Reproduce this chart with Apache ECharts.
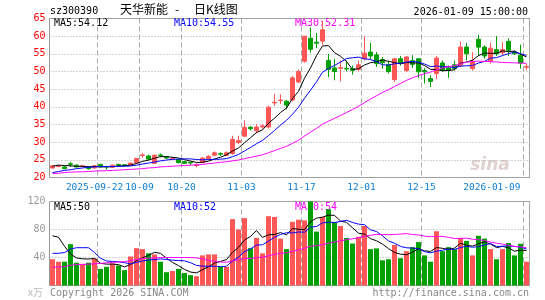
<!DOCTYPE html>
<html>
<head>
<meta charset="utf-8">
<script src="https://cdn.jsdelivr.net/npm/echarts@6/dist/echarts.min.js"></script>
<style>
html, body { margin: 0; padding: 0; background: #fff; }
#main { width: 545px; height: 300px; }
</style>
</head>
<body>
<div id="main"></div>
<script>
// trading days shown on the chart
var dates = [
  '2025-09-10','2025-09-11','2025-09-12','2025-09-15','2025-09-16','2025-09-17','2025-09-18','2025-09-19','2025-09-22','2025-09-23',
  '2025-09-24','2025-09-25','2025-09-26','2025-09-29','2025-09-30','2025-10-09','2025-10-10','2025-10-13','2025-10-14','2025-10-15',
  '2025-10-16','2025-10-17','2025-10-20','2025-10-21','2025-10-22','2025-10-23','2025-10-24','2025-10-27','2025-10-28','2025-10-29',
  '2025-10-30','2025-10-31','2025-11-03','2025-11-04','2025-11-05','2025-11-06','2025-11-07','2025-11-10','2025-11-11','2025-11-12',
  '2025-11-13','2025-11-14','2025-11-17','2025-11-18','2025-11-19','2025-11-20','2025-11-21','2025-11-24','2025-11-25','2025-11-26',
  '2025-11-27','2025-11-28','2025-12-01','2025-12-02','2025-12-03','2025-12-04','2025-12-05','2025-12-08','2025-12-09','2025-12-10',
  '2025-12-11','2025-12-12','2025-12-15','2025-12-16','2025-12-17','2025-12-18','2025-12-19','2025-12-22','2025-12-23','2025-12-24',
  '2025-12-25','2025-12-26','2025-12-29','2025-12-30','2025-12-31','2026-01-05','2026-01-06','2026-01-07','2026-01-08','2026-01-09'
];

var opens = [
  22.7,23.1,23.0,23.9,23.5,23.1,23.0,22.7,23.7,23.1,
  22.9,23.7,23.6,23.5,24.2,26.2,26.1,24.0,26.4,25.8,
  25.2,25.1,24.5,24.3,23.4,24.2,25.3,26.3,26.8,26.3,
  26.8,29.9,31.7,34.2,33.2,34.3,34.3,41.1,41.8,41.6,
  41.9,47.0,52.9,59.4,58.3,58.6,53.1,51.0,50.9,50.9,
  50.8,50.6,53.6,55.5,54.7,53.4,51.9,47.7,53.6,50.3,
  53.1,53.6,50.3,48.0,49.4,52.4,51.0,51.9,51.7,56.9,
  50.8,59.1,56.9,52.9,56.2,55.3,58.5,55.5,54.6,51.2
];
var closes = [
  23.3,23.3,22.5,23.7,23.0,23.3,22.5,23.3,23.0,23.0,
  23.5,23.5,23.4,24.1,25.4,26.4,25.2,26.3,26.2,25.5,
  25.4,24.2,24.0,24.1,23.6,25.5,26.0,27.0,26.6,27.0,
  30.8,30.5,34.2,33.8,34.3,34.6,39.9,41.3,41.9,40.5,
  48.2,50.0,60.0,56.3,58.0,61.8,50.6,50.0,51.1,50.7,
  50.3,51.9,55.2,54.4,52.2,52.5,50.0,53.6,52.5,54.1,
  52.0,49.9,49.9,47.2,53.8,50.3,50.3,50.8,56.9,55.0,
  52.9,56.9,54.4,56.6,55.0,56.2,56.0,55.0,52.4,51.4
];
var highs = [
  23.5,23.6,23.3,24.4,23.7,23.5,23.1,23.4,23.9,23.3,
  23.6,23.9,23.8,24.2,25.5,26.9,26.4,26.5,26.8,26.0,
  25.8,25.3,24.7,24.5,24.0,25.7,26.3,27.4,27.1,27.4,
  31.8,31.8,36.2,34.6,35.1,35.1,40.3,43.7,43.5,41.9,
  48.7,50.6,60.0,62.5,60.9,64.3,55.0,53.6,53.1,53.1,
  51.7,53.1,60.0,58.1,55.5,54.1,53.1,53.8,54.4,54.4,
  54.6,53.8,51.0,48.9,54.4,53.1,51.7,53.1,58.5,58.1,
  55.5,60.4,57.4,58.1,60.0,58.3,59.4,56.0,57.6,52.2
];
var lows = [
  22.5,22.9,22.3,23.0,22.8,22.9,22.2,22.5,22.9,22.2,
  22.7,23.2,23.2,23.3,24.0,25.6,25.0,23.8,25.7,25.2,
  25.0,24.0,23.8,23.5,22.9,24.1,25.1,26.0,26.1,26.1,
  26.4,29.4,31.5,33.3,32.5,33.9,33.9,40.3,40.8,39.3,
  41.6,46.8,52.5,55.3,56.6,57.5,48.4,47.5,47.2,50.0,
  49.1,50.1,53.1,53.4,51.3,50.8,49.4,47.0,51.7,49.8,
  51.0,48.2,46.6,45.6,47.8,49.9,48.2,50.3,51.3,53.1,
  50.3,54.4,53.6,52.2,54.4,54.6,54.4,54.7,50.8,50.3
];

// moving averages as drawn on the price pane
var ma5 = [
  23.2,23.5,23.4,23.3,23.16,23.16,23.0,23.16,23.02,23.02,
  23.06,23.26,23.28,23.5,23.98,24.56,24.9,25.48,25.9,25.92,
  25.72,25.52,25.06,24.64,24.26,24.28,24.64,25.24,25.74,26.42,
  27.48,28.38,29.82,31.26,32.72,33.48,35.36,36.78,38.4,39.64,
  42.36,44.38,48.12,51.0,54.5,57.22,57.34,55.34,54.3,52.84,
  50.54,50.8,51.84,52.5,52.8,53.24,52.86,52.54,52.16,52.54,
  52.44,52.42,51.68,50.62,50.56,50.22,50.3,50.48,52.42,52.66,
  53.18,54.5,55.22,55.16,55.16,55.82,55.64,55.76,54.92,54.12
];
var ma10 = [
  21.4,21.7,22.0,22.2,22.5,22.7,22.9,23.0,23.1,23.09,
  23.11,23.13,23.22,23.26,23.5,23.81,24.08,24.38,24.7,24.95,
  25.14,25.21,25.27,25.27,25.09,25.0,25.08,25.15,25.19,25.34,
  25.88,26.51,27.53,28.5,29.57,30.48,31.87,33.3,34.83,36.18,
  37.92,39.87,42.45,44.7,47.07,49.79,50.86,51.73,52.65,53.67,
  53.88,54.07,53.59,53.4,52.82,51.89,51.83,52.19,52.33,52.67,
  52.84,52.64,52.11,51.39,51.55,51.33,51.36,51.08,51.52,51.61,
  51.7,52.4,52.85,53.79,53.91,54.5,55.07,55.49,55.04,54.55
];
var ma30 = [
  21.1,21.2,21.4,21.5,21.6,21.6,21.7,21.8,21.9,21.9,
  22.0,22.1,22.2,22.3,22.4,22.5,22.7,22.8,23.0,23.1,
  23.2,23.3,23.4,23.5,23.6,23.7,23.9,24.1,24.3,24.46,
  24.71,24.95,25.34,25.68,26.05,26.43,27.01,27.61,28.24,28.82,
  29.65,30.53,31.75,32.82,33.91,35.09,35.94,36.73,37.56,38.4,
  39.23,40.15,41.19,42.2,43.15,44.05,44.85,45.74,46.6,47.51,
  48.21,48.86,49.38,49.83,50.48,51.0,51.35,51.67,52.17,52.65,
  52.81,52.95,52.85,52.8,52.7,52.55,52.5,52.45,52.38,52.31
];

// volume in 10k lots
var volumes = [
  37.5,34,34,59,32.6,31,32.6,38.5,23.7,26.7,
  31.6,28.6,22,41.5,53.3,52,46,44.4,34,19,
  20.7,23.7,17.8,14.8,13.3,43,44.4,44.4,26.7,26.7,
  94.8,80,96.3,53.3,68,46,99,98,67,52,
  91,94,93,126,77,98,109,91,85,68,
  60,69.6,85,52,53,36,37.5,57.8,39,49,
  54.8,62,43,34,77.5,49,54.8,52,68,63.7,
  43,71,67,52,37.5,52,60.7,43,59.7,34
];
var volMa5 = [
  71,69,56,45,39.4,38.1,37.8,38.7,31.7,30.5,
  30.6,29.8,26.5,30.1,35.4,39.5,43.0,47.4,45.9,39.1,
  32.8,28.4,23.0,19.2,18.1,22.5,26.7,32.0,34.4,37.0,
  47.4,54.5,64.9,70.2,78.5,68.7,72.5,72.9,75.6,72.4,
  81.4,80.4,79.4,91.2,96.2,97.6,100.6,100.2,92.0,90.2,
  82.6,74.7,73.5,66.9,63.9,59.1,52.7,47.3,44.7,43.9,
  47.6,52.5,49.6,48.6,54.3,53.1,51.7,53.5,60.3,57.5,
  56.3,59.5,62.5,59.3,54.1,55.9,53.8,49.0,50.6,50
];
var volMa10 = [
  46,46,47,52,54,54,54,47,39,35.0,
  34.4,33.8,32.6,30.9,33.0,35.1,36.4,37.0,38.0,37.2,
  36.2,35.7,35.2,32.6,28.6,27.7,27.5,27.5,26.8,27.6,
  35.0,40.6,48.4,52.3,57.8,58.1,63.5,68.9,72.9,75.4,
  75.1,76.5,76.1,83.4,84.3,89.5,90.5,89.8,91.6,93.2,
  90.1,87.7,86.9,79.5,77.1,70.9,63.7,60.4,55.8,53.9,
  53.4,52.6,48.4,46.6,49.1,50.4,52.1,51.5,54.4,55.9,
  54.7,55.6,58.0,59.8,55.8,56.1,56.7,55.8,55.0,52
];
var volMa30 = [
  26,26.5,27,29,30,30,30.5,31,31.5,32.5,
  33,33.5,34,35.5,37,38.5,39,39.5,40,40,
  40,40,40,40,39.5,38,36,34.5,33.5,33.25,
  35.2,36.7,38.8,38.6,39.8,40.3,42.5,44.5,45.9,46.7,
  48.7,50.9,53.3,56.1,56.9,58.4,60.5,62.1,63.8,65.4,
  66.7,68.2,70.5,71.7,73.0,72.8,72.6,73.0,73.4,74.2,
  72.8,72.2,70.5,69.8,70.1,70.2,68.8,67.2,67.3,67.7,
  66.1,65.3,64.4,62.0,60.6,59.1,57.5,55.9,55.1,54
];

// dates that get a label and a dashed line
var labelDates = ['2025-09-22','2025-10-09','2025-10-20','2025-11-03','2025-11-17','2025-12-01','2025-12-15','2026-01-09'];

var UP = '#ff5656', DOWN = '#00a000';
var MONO = '"DejaVu Sans Mono", "Liberation Mono", monospace';
var CJK = '"Noto Sans CJK SC", sans-serif';
var last = dates.length - 1;

function isMarked(i) { return labelDates.indexOf(dates[i]) >= 0; }
function dateText(v) {
  var k = labelDates.indexOf(v);
  if (k === 0) return '{first|' + v + '}';
  if (v.slice(0, 4) !== labelDates[k - 1].slice(0, 4)) return v;
  return v.slice(5);
}

var candles = dates.map(function (d, i) { return [opens[i], closes[i], lows[i], highs[i]]; });

var myChart = echarts.init(document.getElementById('main'), null, { renderer: 'canvas' });

var splitX = { show: true, interval: function (i) { return isMarked(i); }, lineStyle: { color: '#aaa', type: [5, 3], width: 1 } };

function maLine(name, data, color, xi) {
  return {
    name: name, type: 'line', data: data, xAxisIndex: xi, yAxisIndex: xi,
    symbol: 'none', smooth: false, silent: true,
    lineStyle: { color: color, width: 1 }
  };
}

function label(text, x, y, color, extra, font) {
  var st = { text: text, fill: color, font: font || ('10px ' + MONO), verticalAlign: 'middle' };
  for (var k in extra) st[k] = extra[k];
  return { type: 'text', x: x, y: y, style: st, silent: true };
}

var option = {
  animation: false,
  grid: [
    { left: 49.5, top: 18.5, width: 480, height: 159, show: true, borderColor: '#999', borderWidth: 1 },
    { left: 49.5, top: 201.5, width: 480, height: 84, show: true, borderColor: '#999', borderWidth: 1 }
  ],
  xAxis: [
    {
      type: 'category', gridIndex: 0, data: dates, boundaryGap: true,
      axisLine: { show: false }, axisTick: { show: false },
      axisLabel: {
        interval: function (i) { return isMarked(i); },
        formatter: dateText, color: '#0a7fd6', fontFamily: MONO, fontSize: 9.5,
        margin: 5, padding: [0, 6, 0, 0], alignMaxLabel: 'right', hideOverlap: false,
        rich: { first: { color: '#0a7fd6', fontFamily: MONO, fontSize: 9.5, padding: [0, 6, 0, 0] } }
      },
      splitLine: splitX
    },
    {
      type: 'category', gridIndex: 1, data: dates, boundaryGap: true,
      axisLine: { show: false }, axisTick: { show: false }, axisLabel: { show: false },
      splitLine: splitX
    }
  ],
  yAxis: [
    {
      type: 'value', gridIndex: 0, min: 20, max: 65, interval: 5,
      axisLine: { show: false }, axisTick: { show: false },
      axisLabel: { color: '#ff0000', fontFamily: MONO, fontSize: 10, margin: 4 },
      splitLine: { lineStyle: { color: '#aaa', type: [1, 2] } }
    },
    {
      type: 'value', gridIndex: 1, min: 0, max: 120, interval: 40,
      axisLine: { show: false }, axisTick: { show: false },
      axisLabel: { color: '#999', fontFamily: MONO, fontSize: 10, margin: 4,
        formatter: function (v) { return v === 0 ? '' : String(v); } },
      splitLine: { lineStyle: { color: '#aaa', type: [1, 2] } }
    }
  ],
  series: [
    {
      name: 'K', type: 'candlestick', data: candles, xAxisIndex: 0, yAxisIndex: 0,
      barWidth: 5,
      itemStyle: { color: UP, color0: DOWN, borderColor: UP, borderColor0: DOWN, borderWidth: 1 }
    },
    maLine('MA5', ma5, '#000', 0),
    maLine('MA10', ma10, '#0000ff', 0),
    maLine('MA30', ma30, '#ff00ff', 0),
    {
      name: 'VOL', type: 'bar', data: volumes, xAxisIndex: 1, yAxisIndex: 1,
      barWidth: 5,
      itemStyle: { color: function (p) { return closes[p.dataIndex] >= opens[p.dataIndex] ? UP : DOWN; } }
    },
    maLine('VMA5', volMa5, '#000', 1),
    maLine('VMA10', volMa10, '#0000ff', 1),
    maLine('VMA30', volMa30, '#ff00ff', 1)
  ],
  graphic: [
    label('sz300390', 50, 11, '#000'),
    label('天华新能', 120, 9, '#000', null, '12px ' + CJK),
    label('-', 175, 9, '#000', null, '12px ' + CJK),
    label('日K线图', 194, 9, '#000', null, '12px ' + CJK),
    label('2026-01-09 15:00:00', 528, 12, '#000', { align: 'right' }),
    label('MA5:' + ma5[last].toFixed(2), 54, 23.5, '#000'),
    label('MA10:' + ma10[last].toFixed(2), 174, 23.5, '#0000ff'),
    label('MA30:' + ma30[last].toFixed(2), 295, 23.5, '#ff00ff'),
    label('MA5:' + volMa5[last].toFixed(0), 54, 207, '#000'),
    label('MA10:' + volMa10[last].toFixed(0), 174, 207, '#0000ff'),
    label('MA30:' + volMa30[last].toFixed(0), 295, 207, '#ff00ff'),
    label('x万', 28, 292, '#bbb', null, '10px ' + CJK),
    label('Copyright 2026 SINA.COM', 50, 293, '#888'),
    label('http://finance.sina.com.cn', 529, 293, '#888', { align: 'right' }),
    label('sina', 490, 166, 'rgba(200,170,170,0.55)', { align: 'center' }, 'italic bold 17px "DejaVu Sans", sans-serif')
  ]
};

myChart.setOption(option);
</script>
</body>
</html>
